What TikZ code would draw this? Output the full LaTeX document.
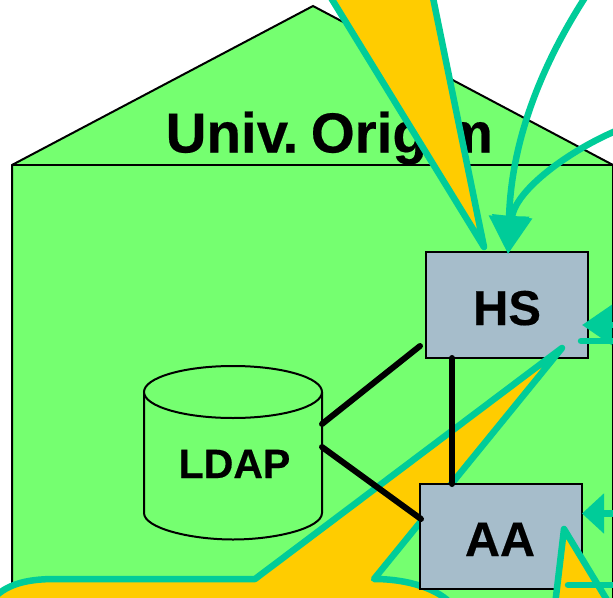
\documentclass[tikz,border=0pt]{standalone}
\usepackage{fontspec}
\setmainfont{Liberation Sans}[BoldFeatures={FakeBold=0.35}]
\usetikzlibrary{arrows.meta}
\definecolor{housegreen}{HTML}{75FF70}
\definecolor{boxblue}{HTML}{A6BDCB}
\definecolor{teal}{HTML}{00CC99}
\definecolor{callout}{HTML}{FFCC00}
\tikzset{
  house/.style={fill=housegreen,draw=black,line width=2pt,line join=miter},
  boxnode/.style={draw=black,fill=boxblue,line width=2pt,minimum width=#1,inner sep=0pt},
  calloutshape/.style={fill=callout,draw=teal,line width=6.5pt,line join=round,line cap=round},
  tealline/.style={draw=teal,line width=6.5pt,line cap=round},
  tealarrow/.style={draw=teal,line width=6.5pt,-{Triangle[length=#1pt,width=39pt]}},
  link/.style={draw=black,line width=6pt,line cap=round},
  cyl/.style={fill=housegreen,draw=black,line width=2pt},
}
\begin{document}
\begin{tikzpicture}[x=1pt,y=-1pt]
\useasboundingbox (0,0) rectangle (613,597);
\clip (0,0) rectangle (613,597);
% house
\draw[house] (12,165) -- (313,6) -- (613,165) -- (613,610) -- (12,610) -- cycle;
\draw[black,line width=2pt] (12,165) -- (613,165);
\node[font=\fontsize{56.5}{56.5}\selectfont\bfseries,inner sep=0pt,anchor=base west] (title) at (165.5,152.5) {Univ\kern-5.5pt.\kern12.5pt Origim};
% LDAP cylinder
\draw[cyl] (144,392) -- (144,513) .. controls (144,528) and (190,539.5) .. (233,539.5) .. controls (276,539.5) and (322,528) .. (322,513) -- (322,392);
\draw[cyl] (233,392) ellipse [x radius=89,y radius=26];
\node[font=\fontsize{41}{41}\selectfont\bfseries,inner sep=0pt,anchor=base] (ldap) at (234.5,478) {LDAP};
\coordinate (ldapA) at (322,424);
\coordinate (ldapB) at (322,447);
% HS box
\node[boxnode=162pt,minimum height=106pt] (HS) at (507,305) {};
\node[font=\fontsize{49}{49}\selectfont\bfseries,inner sep=0pt,anchor=base] (HSt) at (507,325) {HS};
% top callout
\draw[calloutshape] (325,-12) -- (484,247) -- (431,-12);
% arrows into HS
\coordinate (hsTip) at (508,254);
\coordinate (farA) at (586,-4);
\coordinate (farB) at (618,130);
\draw[tealarrow=38] (farA) .. controls (535,75) and (511,150) .. (hsTip);
\draw[tealarrow=38] (farB) .. controls (570,150) and (515,190) .. (hsTip);
% big lower callout
\draw[calloutshape] (562,348) -- (255,579) -- (55,579) .. controls (25,579) and (5,585) .. (-8,600) -- (-8,625) -- (460,625) -- (452,605) .. controls (440,590) and (410,579) .. (374,579) -- cycle;
% AA box
\node[boxnode=162pt,minimum height=105pt] (AA) at (501,536.5) {};
\node[font=\fontsize{48.5}{48.5}\selectfont\bfseries,inner sep=0pt,anchor=base] (AAt) at (500,556) {AA};
% links
\coordinate (hsBottom) at (452,358);
\coordinate (aaTop) at (452,484);
\coordinate (hsLeft) at (420,346);
\coordinate (aaLeft) at (421,519);
\draw[link] (hsBottom) -- (aaTop);
\draw[link] (ldapA) -- (hsLeft);
\draw[link] (ldapB) -- (aaLeft);
% right arrows
\coordinate (hsRight) at (582,325);
\coordinate (aaRight) at (582,513.5);
\coordinate (farC) at (640,325);
\coordinate (farD) at (620,513.5);
\draw[tealarrow=30] (farC) -- (hsRight);
\draw[tealarrow=22] (farD) -- (aaRight);
\coordinate (stubA) at (581,341);
\coordinate (stubB) at (568,585);
\draw[tealline] (stubA) -- (620,341);
% lower-right callout
\draw[calloutshape] (555,605) -- (564,529) -- (610,605);
\draw[tealline] (stubB) -- (620,585);
\end{tikzpicture}
\end{document}
